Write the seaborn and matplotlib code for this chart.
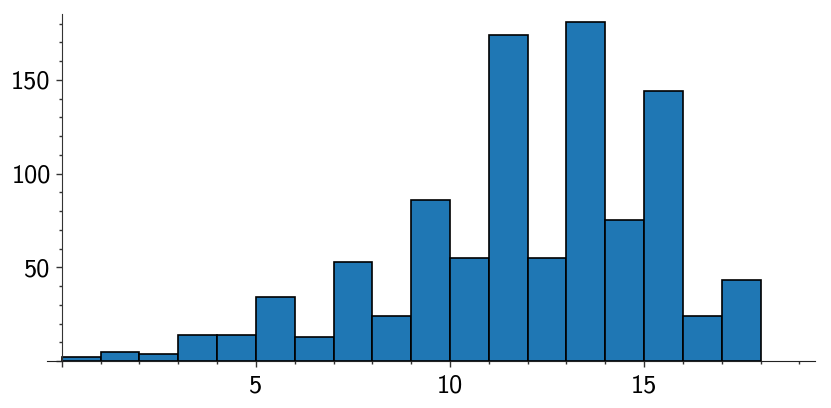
import numpy as np
import matplotlib
matplotlib.use("Agg")
import matplotlib.pyplot as plt
import seaborn as sns
from matplotlib.ticker import MultipleLocator, FuncFormatter

# ---------------------------------------
# Histogram data (bin edges and counts)
# ---------------------------------------

bin_edges = [0, 1, 2, 3, 4, 5, 6, 7, 8, 9, 10, 11, 12, 13, 14, 15, 16, 17, 18]
counts = [2, 5, 4, 14, 14, 34, 13, 53, 24, 86, 55, 174, 55, 181, 75, 144, 24, 43]

centers = [(a + b) / 2 for a, b in zip(bin_edges[:-1], bin_edges[1:])]

sns.set_style("ticks")
plt.rcParams["font.family"] = ["cmss10", "DejaVu Sans"]
plt.rcParams["axes.formatter.use_mathtext"] = True

fig = plt.figure(figsize=(8.31, 4.08), dpi=100)
ax = fig.add_axes([0.0566, 0.115, 0.924, 0.85])

sns.histplot(x=centers, weights=counts, bins=bin_edges, ax=ax,
             color="#1f77b4", alpha=1, edgecolor="black", linewidth=1.2)

ax.set_xlim(-0.38, 19.4)
ax.set_ylim(0, 185)

for s in ["top", "right"]:
    ax.spines[s].set_visible(False)
ax.spines["left"].set_position(("data", 0))
ax.spines["left"].set_color("#333333")
ax.spines["bottom"].set_color("#222222")

ax.xaxis.set_major_locator(MultipleLocator(5))
ax.xaxis.set_minor_locator(MultipleLocator(1))
ax.yaxis.set_major_locator(MultipleLocator(50))
ax.yaxis.set_minor_locator(MultipleLocator(10))

fmt = FuncFormatter(lambda v, p: "" if v == 0 else "%d" % v)
ax.xaxis.set_major_formatter(fmt)
ax.yaxis.set_major_formatter(fmt)

ax.tick_params(which="major", direction="out", length=4, width=1,
               labelsize=19, color="#333333", labelcolor="black",
               bottom=True, left=True)
ax.tick_params(axis="x", which="major", pad=6)
ax.tick_params(axis="y", which="major", pad=4)
ax.tick_params(which="minor", direction="out", length=2.5, width=1,
               color="#333333", bottom=True, left=True)
ax.set_xlabel("")
ax.set_ylabel("")

fig.savefig("out.png", dpi=100)
